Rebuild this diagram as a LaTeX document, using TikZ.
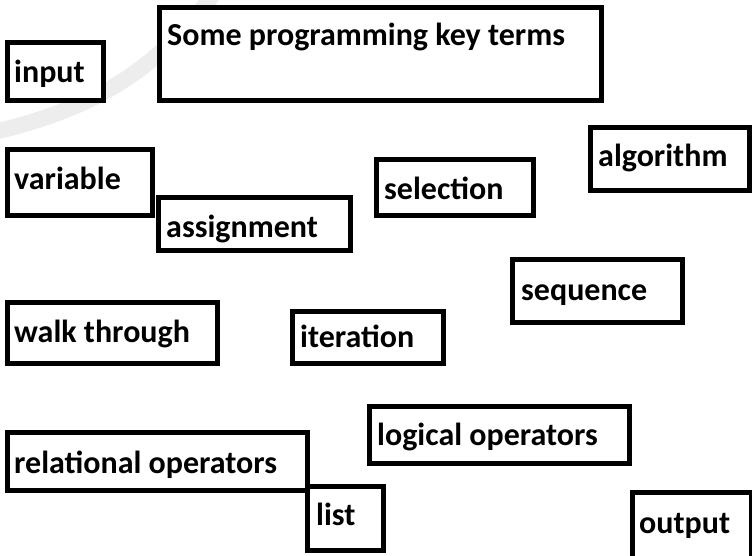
\documentclass[tikz,border=0pt]{standalone}
\usepackage{fontspec}
\setmainfont{Carlito}
\begin{document}
\begin{tikzpicture}[x=1pt,y=-1pt,
  box/.style={draw=black, line width=5pt, fill=white, inner sep=0pt, anchor=north west},
  lbl/.style={anchor=base west, inner sep=0pt, font=\fontsize{32}{38}\selectfont\bfseries}]
\useasboundingbox (0,0) rectangle (752,556);
\fill[white] (0,0) rectangle (752,556);
% faint background swoosh
\draw[line width=16pt, color=black!7, line cap=butt] (-10,133) .. controls (80,112) and (150,80) .. (215,-8);
% boxes
\newcommand\kbox[5]{\node[box, minimum width={#4-#2}, minimum height={#5-#3}] (#1) at (#2,#3) {};}
\kbox{tbox}{157}{5}{599}{98}
\node[lbl] (title) at (167,46) {Some programming key terms};
\kbox{ibox}{5}{40}{101}{98}
\node[lbl] (input) at (14,83) {input};
\kbox{vbox}{5}{147}{150}{213}
\node[lbl] (variable) at (14,190) {variable};
\kbox{abox}{156}{195}{348}{248}
\node[lbl] (assignment) at (166,237) {assignment};
\kbox{sbox}{374}{157}{531}{213}
\node[lbl] (selection) at (384,200) {selection};
\kbox{albox}{588}{125}{747}{188}
\node[lbl] (algorithm) at (598,167) {algorithm};
\kbox{sqbox}{510}{257}{680}{320}
\node[lbl] (sequence) at (521,300) {sequence};
\kbox{wbox}{5}{300}{215}{361}
\node[lbl] (walk) at (14,342) {walk through};
\kbox{itbox}{290}{309}{441}{361}
\node[lbl] (iteration) at (300,347) {iteration};
\kbox{lobox}{367}{404}{627}{461}
\node[lbl] (logical) at (377,445) {logical operators};
\kbox{rbox}{5}{430}{305}{488}
\node[lbl] (relational) at (14,473) {relational operators};
\kbox{lbox}{305}{484}{381}{548}
\node[lbl] (list) at (316,525) {list};
\kbox{obox}{630}{490}{749}{560}
\node[lbl] (output) at (639,533) {output};
\end{tikzpicture}
\end{document}
